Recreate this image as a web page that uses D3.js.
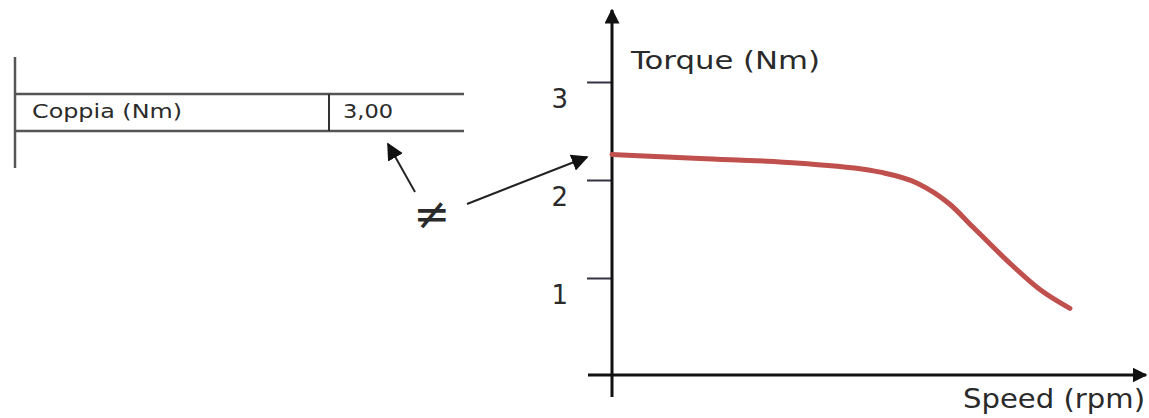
<!DOCTYPE html>
<html>
<head>
<meta charset="utf-8">
<script src="https://cdn.jsdelivr.net/npm/d3@7"></script>
<style>
  html, body { margin: 0; padding: 0; background: #fff; }
  svg { display: block; }
  text { font-family: "DejaVu Sans", Verdana, sans-serif; fill: #2a2a2a; }
</style>
</head>
<body>
<svg id="chart" width="1149" height="418"></svg>
<script>
// Torque curve: speed (arbitrary units, 0 at the torque axis) vs torque (Nm)
const speed  = [0, 16.6, 35.5, 50.6, 57.5, 63.8, 68.1, 74.5, 80.8, 86.4];
const torque = [2.26, 2.22, 2.17, 2.08, 1.97, 1.75, 1.52, 1.18, 0.88, 0.69];
const torqueTicks = [1, 2, 3];
const tableLabel = "Coppia (Nm)";
const tableValue = "3,00";

const svg = d3.select("#chart");

// Scales
const x = d3.scaleLinear().domain([0, 100]).range([612, 1142]);
const y = d3.scaleLinear().domain([0, 3]).range([376, 82]);

// Arrowhead markers
const defs = svg.append("defs");
function marker(id, size) {
  defs.append("marker")
    .attr("id", id)
    .attr("viewBox", "0 0 10 10")
    .attr("refX", 9).attr("refY", 5)
    .attr("markerWidth", size).attr("markerHeight", size)
    .attr("markerUnits", "strokeWidth")
    .attr("orient", "auto")
    .append("path").attr("d", "M0,0 L10,5 L0,10 Z").attr("fill", "#111");
}
marker("head", 5);
marker("headThin", 8.5);

// Y ticks and labels
const yAxis = d3.axisLeft(y).tickValues(torqueTicks).tickSize(25).tickPadding(19)
  .tickFormat(d3.format("d"));
const gy = svg.append("g").attr("transform", `translate(${x(0)},0)`).call(yAxis);
gy.select(".domain").remove();
gy.selectAll(".tick line").attr("stroke", "#333344").attr("stroke-width", 2);
gy.selectAll(".tick text")
  .attr("dy", "0.36em")
  .attr("y", 16)
  .style("font-size", "26px")
  .attr("fill", "#2a2a35")
  .attr("font-family", "DejaVu Sans, Verdana, sans-serif");

// Axis lines with arrows
svg.append("line")
  .attr("x1", x(0)).attr("y1", 397)
  .attr("x2", x(0)).attr("y2", 10)
  .attr("stroke", "#111").attr("stroke-width", 3)
  .attr("marker-end", "url(#head)");
svg.append("line")
  .attr("x1", 588).attr("y1", y(0) - 1)
  .attr("x2", 1146).attr("y2", y(0) - 1)
  .attr("stroke", "#111").attr("stroke-width", 3)
  .attr("marker-end", "url(#head)");

// Axis titles
svg.append("text").attr("x", 631).attr("y", 69)
  .style("font-size", "25px")
  .attr("textLength", 189).attr("lengthAdjust", "spacingAndGlyphs")
  .text("Torque (Nm)");
svg.append("text").attr("x", 963).attr("y", 408)
  .style("font-size", "27px")
  .attr("textLength", 182).attr("lengthAdjust", "spacingAndGlyphs")
  .text("Speed (rpm)");

// Torque curve
const line = d3.line()
  .x((d, i) => x(speed[i]))
  .y(d => y(d))
  .curve(d3.curveMonotoneX);
svg.append("path")
  .datum(torque)
  .attr("d", line)
  .attr("fill", "none")
  .attr("stroke", "#c0504d")
  .attr("stroke-width", 5)
  .attr("stroke-linecap", "round");

// Table excerpt
const tg = svg.append("g").attr("stroke", "#555").attr("stroke-width", 2.5);
tg.append("line").attr("x1", 15).attr("y1", 57).attr("x2", 15).attr("y2", 168);
tg.append("line").attr("x1", 15).attr("y1", 94).attr("x2", 464).attr("y2", 94);
tg.append("line").attr("x1", 15).attr("y1", 131).attr("x2", 464).attr("y2", 131);
tg.append("line").attr("x1", 329).attr("y1", 94).attr("x2", 329).attr("y2", 131)
  .attr("stroke", "#333").attr("stroke-width", 2);
svg.append("text").attr("x", 32).attr("y", 118)
  .style("font-size", "20px")
  .attr("textLength", 150).attr("lengthAdjust", "spacingAndGlyphs")
  .text(tableLabel);
svg.append("text").attr("x", 343).attr("y", 118)
  .style("font-size", "20px")
  .attr("textLength", 50).attr("lengthAdjust", "spacingAndGlyphs")
  .text(tableValue);

// Not-equal sign with pointers
svg.append("text").attr("x", 432).attr("y", 229)
  .attr("text-anchor", "middle")
  .style("font-size", "44px").attr("fill", "#111").text("≠");
svg.append("line")
  .attr("x1", 415).attr("y1", 192).attr("x2", 388).attr("y2", 144)
  .attr("stroke", "#222").attr("stroke-width", 2)
  .attr("marker-end", "url(#headThin)");
svg.append("line")
  .attr("x1", 467).attr("y1", 204).attr("x2", 587).attr("y2", 157)
  .attr("stroke", "#222").attr("stroke-width", 2)
  .attr("marker-end", "url(#headThin)");
</script>
</body>
</html>
